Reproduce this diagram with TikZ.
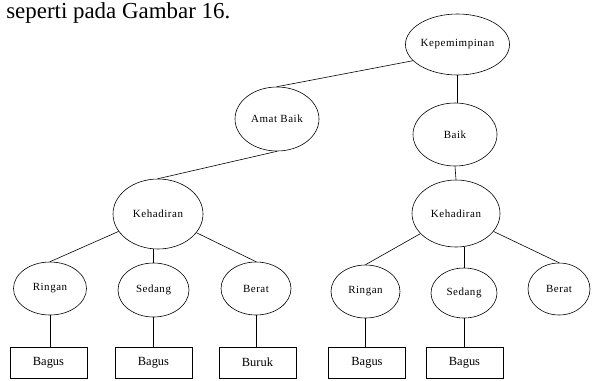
\documentclass[tikz,border=0pt]{standalone}
\usepackage{fontspec}
\setmainfont{Liberation Serif}
\newfontfamily\ovalfont[LetterSpace=5]{Liberation Serif}
\usetikzlibrary{shapes.geometric}

\tikzset{
  oval/.style 2 args={draw, ellipse, inner sep=0pt, minimum width=#1, minimum height=#2,
    font=\ovalfont\fontsize{11}{13}\selectfont},
  leaf/.style={draw, rectangle, inner sep=0pt, minimum width=77bp, minimum height=31bp,
    font=\fontsize{12.5}{14}\selectfont},
}

\begin{document}
\begin{tikzpicture}[x=1bp,y=-1bp,line width=0.6pt]
            \clip (0,0) rectangle (592,380);

            \node[anchor=base west,inner sep=0pt,font=\fontsize{23}{28}\selectfont]
                (caption) at (6,18) {seperti pada Gambar 16.};

            \node[oval={91bp}{61bp}] (kep) at (457.5,44.5) {Kepemimpinan};
            \node[oval={84bp}{64bp}] (amat) at (277,119) {Amat Baik};
            \node[oval={84bp}{63bp}] (baik) at (455,134.5) {Baik};

            \node[oval={90bp}{70bp}] (kehL) at (158,214) {Kehadiran};
            \node[oval={88bp}{67bp}] (kehR) at (456,213.5) {Kehadiran};

            % kiri
            \node[oval={73bp}{53bp}] (ringL) at (50,288.5) {Ringan};
            \node[oval={71bp}{54bp}] (sedL) at (153.5,290) {Sedang};
            \node[oval={70bp}{53bp}] (berL) at (256,288.5) {Berat};
            % kanan
            \node[oval={69bp}{53bp}] (ringR) at (365.5,291.5) {Ringan};
            \node[oval={66bp}{50bp}] (sedR) at (464,293) {Sedang};
            \node[oval={62bp}{52bp}] (berR) at (559,289) {Berat};

            \node[leaf] (bagus1) at (48.5,362.5) {Bagus};
            \node[leaf] (bagus2) at (153.5,362.5) {Bagus};
            \node[leaf] (buruk) at (257.5,362.5) {Buruk};
            \node[leaf] (bagus3) at (367,363) {Bagus};
            \node[leaf] (bagus4) at (464.5,363) {Bagus};

            \draw (kep.200) -- (amat.north);
            \draw (kep.south) -- (kep.south |- baik.north);
            \draw (amat.south) -- (kehL.north);
            \draw (baik.south) -- (kehR.north);

            \draw (kehL) -- (ringL.north);
            \draw (kehL.south -| sedL.north) -- (sedL.north);
            \draw (kehL) -- (berL.north);
            \draw (kehR) -- (ringR.north);
            \draw (kehR.south -| sedR.north) -- (sedR.north);
            \draw (kehR) -- (berR.north);

            \draw (ringL.south) -- (ringL.south |- bagus1.north);
            \draw (sedL.south) -- (sedL.south |- bagus2.north);
            \draw (berL.south) -- (berL.south |- buruk.north);
            \draw (ringR.south) -- (ringR.south |- bagus3.north);
            \draw (sedR.south) -- (sedR.south |- bagus4.north);
\end{tikzpicture}
\end{document}
